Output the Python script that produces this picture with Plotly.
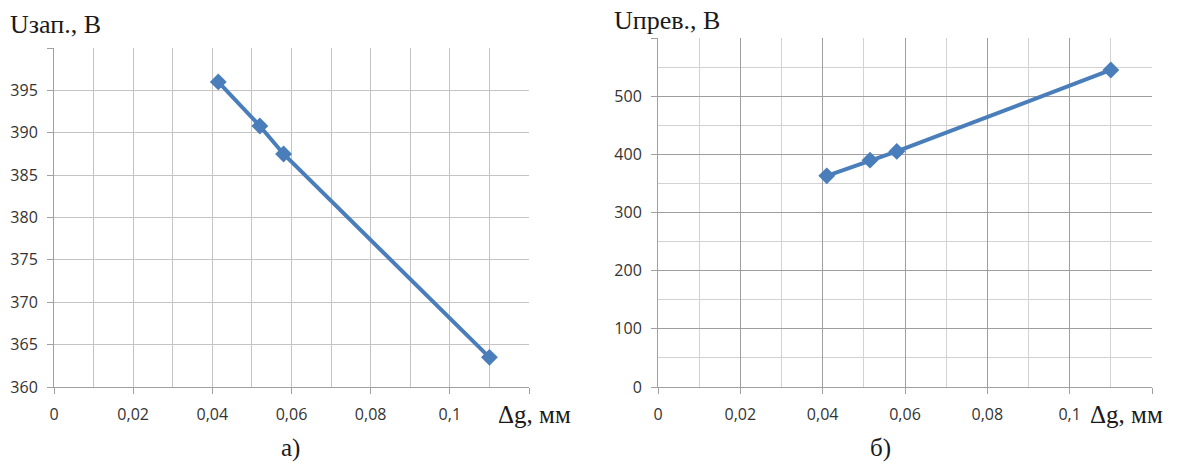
import plotly.graph_objects as go

# ---- data ----
dg_a = [0.0415, 0.052, 0.058, 0.11]
u_zap = [396.0, 390.8, 387.5, 363.5]

dg_b = [0.041, 0.0515, 0.058, 0.11]
u_prev = [363, 390, 405, 545]

x_tickvals = [0, 0.02, 0.04, 0.06, 0.08, 0.1, 0.12]
x_ticktext = ["0", "0,02", "0,04", "0,06", "0,08", "0,1", ""]

ya_tickvals = [360, 365, 370, 375, 380, 385, 390, 395, 400]
ya_ticktext = ["360", "365", "370", "375", "380", "385", "390", "395", ""]

yb_tickvals = [0, 100, 200, 300, 400, 500, 600]
yb_ticktext = ["0", "100", "200", "300", "400", "500", ""]

BLUE = "#4a7ebb"
W, H = 1195, 468
TICKFONT = dict(family="Open Sans", size=16, color="#333333")
SERIF = "Liberation Serif"

fig = go.Figure()
fig.add_trace(go.Scatter(x=dg_a, y=u_zap, mode="lines+markers", xaxis="x", yaxis="y",
                         line=dict(color=BLUE, width=4),
                         marker=dict(symbol="diamond", size=13, color=BLUE)))
fig.add_trace(go.Scatter(x=dg_b, y=u_prev, mode="lines+markers", xaxis="x2", yaxis="y2",
                         line=dict(color=BLUE, width=4),
                         marker=dict(symbol="diamond", size=13, color=BLUE)))

def px_x(p):
    return p / W

def px_y(p):
    return 1 - p / H

grid_a = "#c4c4c4"
grid_b_major = "#9e9e9e"
grid_b_minor = "#d2d2d2"
axis_col = "#a0a0a0"

common = dict(ticks="outside", ticklen=6, tickcolor=axis_col,
              showline=True, linecolor=axis_col, linewidth=1,
              zeroline=False, tickfont=TICKFONT, automargin=False, gridwidth=1)

fig.update_layout(
    width=W, height=H,
    margin=dict(l=0, r=0, t=0, b=0),
    paper_bgcolor="white", plot_bgcolor="white",
    showlegend=False,
    xaxis=dict(domain=[px_x(54), px_x(529)], range=[0, 0.12],
               tickmode="array", tickvals=x_tickvals, ticktext=x_ticktext,
               showgrid=True, gridcolor=grid_a,
               minor=dict(dtick=0.01, tick0=0, showgrid=True, gridcolor=grid_a, ticks=""),
               anchor="y", ticklabelstandoff=7, **common),
    yaxis=dict(domain=[px_y(387), px_y(48)], range=[360, 400],
               tickmode="array", tickvals=ya_tickvals, ticktext=ya_ticktext,
               showgrid=True, gridcolor=grid_a,
               anchor="x", ticklabelstandoff=6, **common),
    xaxis2=dict(domain=[px_x(658), px_x(1152)], range=[0, 0.12],
                tickmode="array", tickvals=x_tickvals, ticktext=x_ticktext,
                showgrid=True, gridcolor=grid_b_major,
                minor=dict(dtick=0.01, tick0=0, showgrid=True, gridcolor=grid_b_minor, ticks=""),
                anchor="y2", ticklabelstandoff=7, **common),
    yaxis2=dict(domain=[px_y(387), px_y(38)], range=[0, 600],
                tickmode="array", tickvals=yb_tickvals, ticktext=yb_ticktext,
                showgrid=True, gridcolor=grid_b_major,
                minor=dict(dtick=50, tick0=0, showgrid=True, gridcolor=grid_b_minor, ticks=""),
                anchor="x2", ticklabelstandoff=6, **common),
)

def note(text, x, y, size, xanchor="left"):
    fig.add_annotation(text=text, x=px_x(x), y=px_y(y), xref="paper", yref="paper",
                       xanchor=xanchor, yanchor="middle", showarrow=False,
                       font=dict(family=SERIF, size=size, color="#1a1a1a"))

note("Uзап., В", 8, 24, 26)
note("Uпрев., В", 612, 21, 26)
note("Δg, мм", 496, 414, 25)
note("Δg, мм", 1088, 414, 25)
note("а)", 290, 448, 25, "center")
note("б)", 880, 448, 25, "center")

# remove the default 8px body margin so the figure fills the window exactly
fig.write_html("out.html",
               config={"displayModeBar": False, "staticPlot": True},
               post_script="document.body.style.margin='0';document.body.style.overflow='hidden';")
